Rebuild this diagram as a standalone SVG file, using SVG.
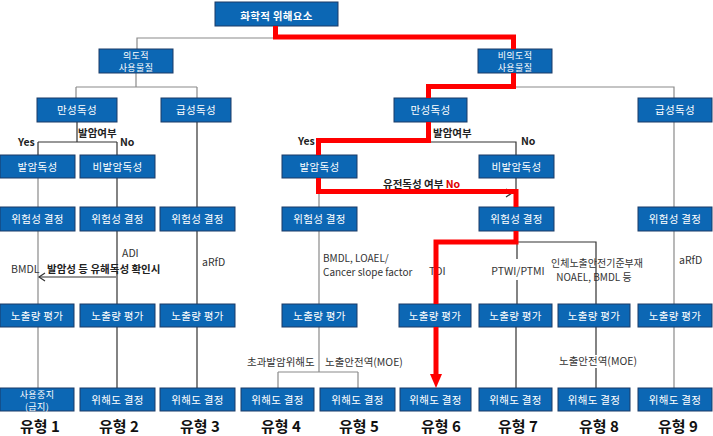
<svg xmlns="http://www.w3.org/2000/svg" width="713" height="436" viewBox="0 0 713 436">
<style>
text{font-family:"Noto Sans CJK KR","Noto Sans",sans-serif;}
.box{fill:#0C67B4;stroke:#1B3A66;stroke-width:1;}
.bt{fill:#fff;font-size:10.5px;text-anchor:middle;letter-spacing:0.3px;}
.bt2{fill:#fff;font-size:9px;text-anchor:middle;letter-spacing:0.4px;}
.ln{stroke:#8a8a8a;stroke-width:1.2;fill:none;}
.dk{stroke:#333;stroke-width:1.2;fill:none;}
.red{stroke:#FF0000;stroke-width:5;fill:none;stroke-linejoin:miter;stroke-linecap:butt;}
.lb{fill:#333;font-size:10.5px;}
.lb2{fill:#333;font-size:10px;}
.bd{fill:#222;font-size:10.5px;font-weight:bold;}
.ty{fill:#111;font-size:15px;font-weight:bold;text-anchor:middle;}
</style>
<defs>
<marker id="open" markerWidth="10" markerHeight="10" refX="7" refY="5" orient="auto" markerUnits="userSpaceOnUse">
<path d="M1,1 L7,5 L1,9" fill="none" stroke="#333" stroke-width="1.2"/>
</marker>
</defs>
<g id="connectors">
<path class="ln" d="M275,38 H137 V49"/>
<path class="ln" d="M136,73 V87 M76,87 H197 M76,87 V98 M197,87 V98"/>
<path class="ln" d="M514,87 H674 V98"/>
<path class="dk" d="M77,122 V142 M38,142 H117 M38,142 V155 M117,142 V155"/>
<path class="dk" d="M428,142 H516 V155"/>
<path class="ln" d="M38,178 V207 M38,231 V304 M38,327 V388"/>
<path class="dk" d="M117,178 V207 M117,231 V304 M117,327 V388"/>
<path class="dk" d="M116,277 H39" marker-end="url(#open)"/>
<path class="dk" d="M197,122 V207 M197,231 V304 M197,327 V388"/>
<path class="ln" d="M319,178 V207 M319,231 V304 M319,327 V372 M278,372 H358 M278,372 V388 M358,372 V388"/>
<path class="dk" d="M320,193 H512" marker-end="url(#open)"/>
<path class="dk" d="M516,178 V207"/>
<path class="dk" d="M516,242 H596 V304 M517,242 V259 M517,280 V304 M516,327 V388"/>
<path class="dk" d="M596,327 V355 M596,368 V388"/>
<path class="ln" d="M674,122 V207 M674,231 V304 M674,327 V388"/>
</g>
<g id="labels">
<text class="bd" x="78" y="137">발암여부</text>
<text class="bd" x="18" y="146" font-size="11">Yes</text>
<text class="bd" x="120" y="146" font-size="11">No</text>
<text class="bd" x="433" y="137">발암여부</text>
<text class="bd" x="298" y="145" font-size="11">Yes</text>
<text class="bd" x="521" y="145" font-size="11">No</text>
<text class="bd" x="383" y="188">유전독성 여부 <tspan fill="#E00000">No</tspan></text>
<text class="lb" x="122" y="257">ADI</text>
<text class="lb" x="11" y="273">BMDL</text>
<text class="bd" x="47" y="273">발암성 등 유해독성 확인시</text>
<text class="lb" x="202" y="266">aRfD</text>
<text class="lb2" x="323" y="262">BMDL, LOAEL/<tspan x="323" dy="14">Cancer slope factor</tspan></text>
<text class="lb" x="429" y="275">TDI</text>
<text class="lb" x="518" y="275" text-anchor="middle">PTWI/PTMI</text>
<text class="lb2" x="597" y="267" text-anchor="middle">인체노출안전기준부재<tspan x="594" dy="14">NOAEL, BMDL 등</tspan></text>
<text class="lb" x="679" y="264">aRfD</text>
<text class="lb" x="247" y="366">초과발암위해도</text>
<text class="lb" x="325" y="366">노출안전역(MOE)</text>
<text class="lb" x="598" y="365" text-anchor="middle">노출안전역(MOE)</text>
</g>
<g id="n0"><rect class="box" x="215" y="2" width="123" height="24"/><text class="bt" x="276.5" y="19.5" font-size="15" font-weight="bold">화학적 위해요소</text></g>
<g id="n1"><rect class="box" x="99" y="49" width="74" height="24"/><text class="bt2" x="136" y="58.5">의도적<tspan x="136" dy="12.5">사용물질</tspan></text></g>
<g id="n2"><rect class="box" x="478" y="49" width="74" height="24"/><text class="bt2" x="515" y="58.5">비의도적<tspan x="515" dy="12.5">사용물질</tspan></text></g>
<g id="n3"><rect class="box" x="37" y="98" width="80" height="24"/><text class="bt" x="77" y="114">만성독성</text></g>
<g id="n4"><rect class="box" x="161" y="98" width="70" height="24"/><text class="bt" x="196" y="114">급성독성</text></g>
<g id="n5"><rect class="box" x="394" y="98" width="73" height="24"/><text class="bt" x="430.5" y="114">만성독성</text></g>
<g id="n6"><rect class="box" x="638" y="98" width="74" height="24"/><text class="bt" x="675" y="114">급성독성</text></g>
<g id="n7"><rect class="box" x="0" y="155" width="75" height="23"/><text class="bt" x="37.5" y="170.5">발암독성</text></g>
<g id="n8"><rect class="box" x="80" y="155" width="75" height="23"/><text class="bt" x="117.5" y="170.5">비발암독성</text></g>
<g id="n9"><rect class="box" x="282" y="155" width="75" height="23"/><text class="bt" x="319.5" y="170.5">발암독성</text></g>
<g id="n10"><rect class="box" x="479" y="155" width="75" height="23"/><text class="bt" x="516.5" y="170.5">비발암독성</text></g>
<g id="n11"><rect class="box" x="0" y="207" width="75" height="24"/><text class="bt" x="37.5" y="223">위험성 결정</text></g>
<g id="n12"><rect class="box" x="80" y="207" width="75" height="24"/><text class="bt" x="117.5" y="223">위험성 결정</text></g>
<g id="n13"><rect class="box" x="160" y="207" width="75" height="24"/><text class="bt" x="197.5" y="223">위험성 결정</text></g>
<g id="n14"><rect class="box" x="282" y="207" width="75" height="24"/><text class="bt" x="319.5" y="223">위험성 결정</text></g>
<g id="n15"><rect class="box" x="479" y="207" width="75" height="24"/><text class="bt" x="516.5" y="223">위험성 결정</text></g>
<g id="n16"><rect class="box" x="638" y="207" width="74" height="24"/><text class="bt" x="675" y="223">위험성 결정</text></g>
<g id="n17"><rect class="box" x="0" y="304" width="74" height="23"/><text class="bt" x="37" y="319.5">노출량 평가</text></g>
<g id="n18"><rect class="box" x="80" y="304" width="75" height="23"/><text class="bt" x="117.5" y="319.5">노출량 평가</text></g>
<g id="n19"><rect class="box" x="160" y="304" width="75" height="23"/><text class="bt" x="197.5" y="319.5">노출량 평가</text></g>
<g id="n20"><rect class="box" x="282" y="304" width="75" height="23"/><text class="bt" x="319.5" y="319.5">노출량 평가</text></g>
<g id="n21"><rect class="box" x="399" y="304" width="72" height="23"/><text class="bt" x="435" y="319.5">노출량 평가</text></g>
<g id="n22"><rect class="box" x="479" y="304" width="73" height="23"/><text class="bt" x="515.5" y="319.5">노출량 평가</text></g>
<g id="n23"><rect class="box" x="558" y="304" width="72" height="23"/><text class="bt" x="594" y="319.5">노출량 평가</text></g>
<g id="n24"><rect class="box" x="638" y="304" width="74" height="23"/><text class="bt" x="675" y="319.5">노출량 평가</text></g>
<g id="n25"><rect class="box" x="0" y="388" width="74" height="23"/><text class="bt2" x="37" y="397.5">사용중지<tspan x="37" dy="12">(금지)</tspan></text></g>
<g id="n26"><rect class="box" x="80" y="388" width="75" height="23"/><text class="bt" x="117.5" y="403.5">위해도 결정</text></g>
<g id="n27"><rect class="box" x="160" y="388" width="75" height="23"/><text class="bt" x="197.5" y="403.5">위해도 결정</text></g>
<g id="n28"><rect class="box" x="241" y="388" width="73" height="23"/><text class="bt" x="277.5" y="403.5">위해도 결정</text></g>
<g id="n29"><rect class="box" x="320" y="388" width="75" height="23"/><text class="bt" x="357.5" y="403.5">위해도 결정</text></g>
<g id="n30"><rect class="box" x="400" y="388" width="71" height="23"/><text class="bt" x="435.5" y="403.5">위해도 결정</text></g>
<g id="n31"><rect class="box" x="479" y="388" width="73" height="23"/><text class="bt" x="515.5" y="403.5">위해도 결정</text></g>
<g id="n32"><rect class="box" x="558" y="388" width="72" height="23"/><text class="bt" x="594" y="403.5">위해도 결정</text></g>
<g id="n33"><rect class="box" x="638" y="388" width="74" height="23"/><text class="bt" x="675" y="403.5">위해도 결정</text></g>
<g id="types">
<text class="ty" x="40" y="432">유형 1</text>
<text class="ty" x="119" y="432">유형 2</text>
<text class="ty" x="200" y="432">유형 3</text>
<text class="ty" x="281" y="432">유형 4</text>
<text class="ty" x="359" y="432">유형 5</text>
<text class="ty" x="441" y="432">유형 6</text>
<text class="ty" x="518" y="432">유형 7</text>
<text class="ty" x="599" y="432">유형 8</text>
<text class="ty" x="678" y="432">유형 9</text>
</g>
<g id="highlight">
<path class="red" d="M275.5,26 V37 H513.5 V49"/>
<path class="red" d="M513.5,73 V86.5 H428.5 V98"/>
<path class="red" d="M428.5,122 V140.5 H318.5 V155"/>
<path class="red" d="M318.5,178 V191.5 H516 V207"/>
<path class="red" d="M516,231 V242 H436 V304"/>
<path class="red" d="M436,327 V376"/>
<polygon points="430,374 442,374 436,388" fill="#FF0000"/>
</g>
</svg>
